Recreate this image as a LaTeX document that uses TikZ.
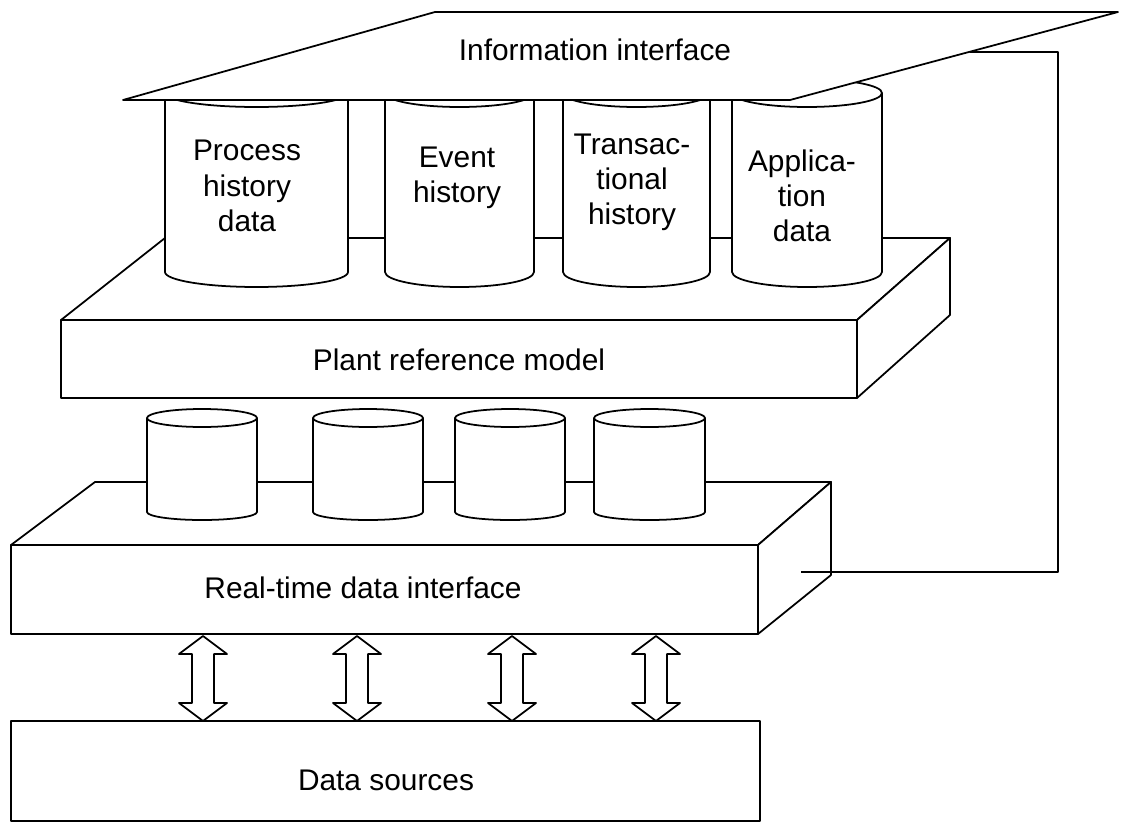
\documentclass[tikz,border=0pt]{standalone}
\usepackage{fontspec}
\setmainfont{Liberation Sans}

\begin{document}
\begin{tikzpicture}[x=0.02cm, y=-0.02cm, line width=1pt, line join=round,
    lbl/.style={font=\fontsize{17}{20}\selectfont, align=center, inner sep=0pt}]
    \useasboundingbox (0,0) rectangle (1121,824);

    % data sources
    \draw (11,721) rectangle (760,821);
    \node[lbl] (src) at (386,780) {Data sources};

    % double arrows
    \foreach \x in {203,357,512,656}
      \draw[fill=white] (\x,636) -- (\x+24,654) -- (\x+11,654) -- (\x+11,703) -- (\x+24,703)
        -- (\x,721) -- (\x-24,703) -- (\x-11,703) -- (\x-11,654) -- (\x-24,654) -- cycle;

    % real-time data interface box
    \draw[fill=white] (11,545) -- (95,482) -- (831,482) -- (758,545) -- cycle;
    \draw[fill=white] (758,545) -- (831,482) -- (831,575) -- (758,634) -- cycle;
    \draw[fill=white] (11,545) rectangle (758,634);
    \node[lbl] (rtdi) at (363,588) {Real-time data interface};

    % lower cylinders
    \foreach \xa/\xb in {147/257, 313/423, 455/565, 594/705}
    {
      \draw[fill=white] (\xa,418) -- (\xa,512)
        arc[start angle=180, end angle=0, x radius={(\xb-\xa)/2}, y radius=8]
        -- (\xb,418) arc[start angle=0, end angle=-180, x radius={(\xb-\xa)/2}, y radius=9] -- cycle;
      \draw (\xa,418) arc[start angle=180, end angle=0, x radius={(\xb-\xa)/2}, y radius=9];
    }

    % plant reference model box
    \draw[fill=white] (61,320) -- (165,238) -- (950,238) -- (857,320) -- cycle;
    \draw[fill=white] (857,320) -- (950,238) -- (950,315) -- (857,398) -- cycle;
    \draw[fill=white] (61,320) rectangle (857,398);
    \node[lbl] (prm) at (459,360) {Plant reference model};

    % upper cylinders
    \foreach \xa/\xb in {165/348, 385/534, 563/710, 732/882}
    {
      \draw[fill=white] (\xa,93) -- (\xa,272)
        arc[start angle=180, end angle=0, x radius={(\xb-\xa)/2}, y radius=15]
        -- (\xb,93) arc[start angle=0, end angle=-180, x radius={(\xb-\xa)/2}, y radius=14] -- cycle;
      \draw (\xa,93) arc[start angle=180, end angle=0, x radius={(\xb-\xa)/2}, y radius=14];
    }
    \node[lbl] (phd) at (247,186) {Process\\history\\data};
    \node[lbl] (evh) at (457,178) {Event\\history};
    \node[lbl] (trh) at (632,182) {Transac-\\tional\\history};
    \node[lbl] (apd) at (802,196) {Applica-\\tion\\data};

    % information interface plane
    \draw[fill=white] (435,12) -- (1118,12) -- (790,100) -- (123,100) -- cycle;
    \node[lbl] (info) at (595,50) {Information interface};

    % feedback line
    \draw (970,52) -- (1058,52) -- (1058,572) -- (801,572);
\end{tikzpicture}
\end{document}
